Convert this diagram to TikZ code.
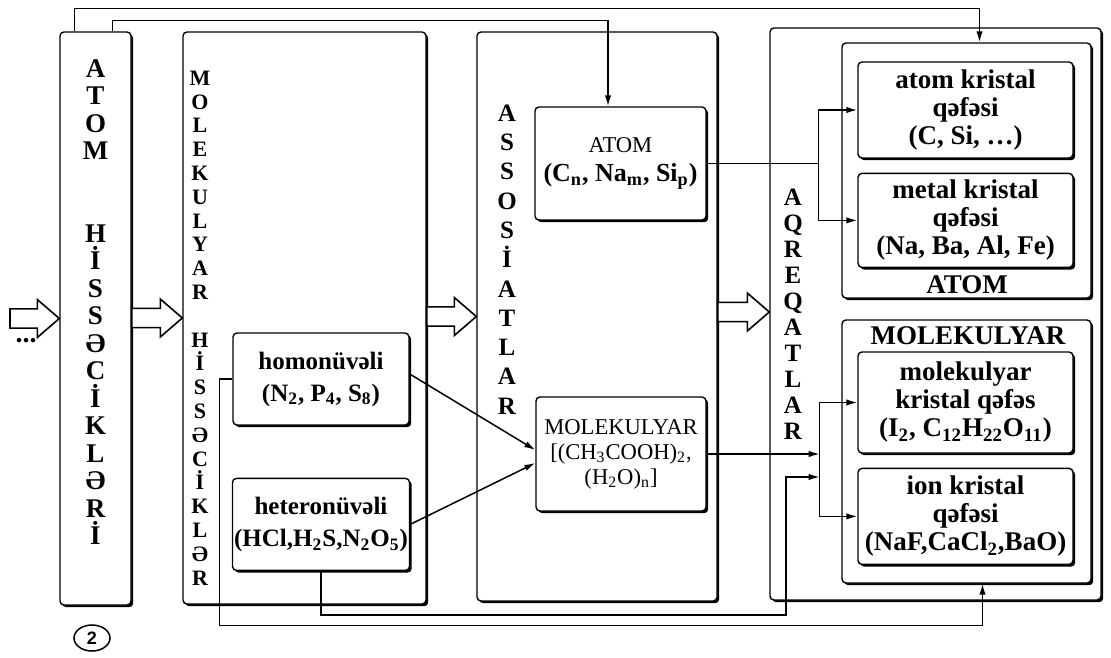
\documentclass[tikz,border=0pt]{standalone}
\usepackage{fontspec}
\setmainfont{Liberation Serif}
\newfontfamily\circfont{Liberation Sans}
\usetikzlibrary{arrows.meta, positioning, calc, shadows, shapes.geometric}

% hollow block arrow from the x of #1 to the point #2
\newcommand{\bigarrow}[2]{%
  \draw[hollow] let \p1 = #1, \p2 = #2 in
    (\x1, \y2+4.8pt) -- (\x2-11pt, \y2+4.8pt) -- (\x2-11pt, \y2+9.5pt) -- (\x2, \y2)
    -- (\x2-11pt, \y2-9.5pt) -- (\x2-11pt, \y2-4.8pt) -- (\x1, \y2-4.8pt) -- cycle;}

\begin{document}
\begin{tikzpicture}[
        x=0.5pt, y=-0.5pt,
        box/.style = {draw, fill=white, rounded corners=2pt, line width=0.7pt, inner sep=0pt,
                      drop shadow={shadow xshift=1.1pt, shadow yshift=-1.1pt, opacity=1, fill=black}},
        inbox/.style = {box, align=center, font=\fontsize{13.5}{14}\selectfont\bfseries},
        vlet/.style = {align=center, inner sep=0pt},
        conn/.style = {line width=0.75pt},
        hollow/.style = {draw, fill=white, line width=0.8pt, line join=miter},
        >={Latex[length=5.5pt, width=3.2pt]}
    ]
    \useasboundingbox (0,0) rectangle (1111,657);

    % main columns
    \node[box, minimum width=35.5pt, minimum height=286.5pt] (atomh) at (95.5,318.5) {};
    \node[box, minimum width=121.5pt, minimum height=286pt] (molh) at (304.5,318) {};
    \node[box, minimum width=120pt, minimum height=284.5pt] (assoc) at (597,316.5) {};
    \node[box, minimum width=165.5pt, minimum height=286pt] (aqreq) at (935.5,314) {};

    % groups of the lattices
    \node[box, minimum width=124.5pt, minimum height=127.5pt] (atomgrp) at (966.5,170.5) {};
    \node[box, minimum width=124.5pt, minimum height=131.5pt] (molgrp) at (966.5,451.5) {};
    \node[font=\fontsize{13.5}{13.5}\selectfont\bfseries] (atomlbl) at (967,285) {ATOM};
    \node[font=\fontsize{13.5}{13.5}\selectfont\bfseries] (mollbl) at (968,336) {MOLEKULYAR};

    \node[inbox, minimum width=107.5pt, minimum height=48pt] (atomkr) at (965.5,110)
        {atom kristal\\qəfəsi\\(C, Si, …)};
    \node[inbox, minimum width=107.5pt, minimum height=47pt, below=7pt of atomkr] (metalkr)
        {metal kristal\\qəfəsi\\(Na, Ba, Al, Fe)};
    \node[inbox, minimum width=107.5pt, minimum height=50.5pt] (molkr) at (965.5,402.5)
        {molekulyar\\kristal qəfəs\\(I\textsubscript{2}, C\textsubscript{12}H\textsubscript{22}O\textsubscript{11})};
    \node[inbox, minimum width=107.5pt, minimum height=48pt, below=7pt of molkr] (ionkr)
        {ion kristal\\qəfəsi\\(NaF,CaCl\textsubscript{2},BaO)};

    % associates
    \node[box, align=center, minimum width=85.5pt, minimum height=56.5pt,
          font=\fontsize{13}{14.5}\selectfont\bfseries] (atomassoc) at (620.5,163.5)
        {{\mdseries\fontsize{11.3}{14.5}\selectfont ATOM}\\(C\textsubscript{n}, Na\textsubscript{m}, Si\textsubscript{p})};
    \node[box, align=center, minimum width=85pt, minimum height=57pt,
          font=\fontsize{11.3}{12.5}\selectfont] (molassoc) at (621,454)
        {MOLEKULYAR\\{[}(CH\textsubscript{3}COOH)\textsubscript{2},\\(H\textsubscript{2}O)\textsubscript{n}]};

    % molecules
    \node[box, align=center, minimum width=88pt, minimum height=46pt,
          font=\fontsize{12.5}{16}\selectfont\bfseries] (homo) at (321,379)
        {homonüvəli\\(N\textsubscript{2}, P\textsubscript{4}, S\textsubscript{8})};
    \node[box, align=center, minimum width=88.5pt, minimum height=46pt, below=26pt of homo,
          font=\fontsize{12.5}{16}\selectfont\bfseries] (hetero)
        {heteronüvəli\\(HCl,H\textsubscript{2}S,N\textsubscript{2}O\textsubscript{5})};

    % vertical titles
    \node[vlet, font=\fontsize{13.5}{13.75}\selectfont\bfseries] (atomhtxt) at (95.5,302)
        {A\\T\\O\\M\\[27.5pt]H\\İ\\S\\S\\Ə\\C\\İ\\K\\L\\Ə\\R\\İ};
    \node[vlet, font=\fontsize{11}{11.9}\selectfont\bfseries] (molhtxt) at (200,328)
        {M\\O\\L\\E\\K\\U\\L\\Y\\A\\R\\[11.9pt]H\\İ\\S\\S\\Ə\\C\\İ\\K\\L\\Ə\\R};
    \node[vlet, font=\fontsize{12.5}{14.65}\selectfont\bfseries] (assoctxt) at (507,259.5)
        {A\\S\\S\\O\\S\\İ\\A\\T\\L\\A\\R};
    \node[vlet, font=\fontsize{12.5}{13}\selectfont\bfseries] (aqreqtxt) at (793,314)
        {A\\Q\\R\\E\\Q\\A\\T\\L\\A\\R};

    \node[draw, ellipse, line width=0.75pt, minimum width=18pt, minimum height=13pt, inner sep=0pt,
          font=\circfont\bfseries\fontsize{9}{9}\selectfont] (num) at (92,638) {2};
    \node[font=\fontsize{14}{14}\selectfont\bfseries] (dots) at (26,341) {...};

    % block arrows
    \coordinate (entry) at (10,318);
    \bigarrow{(entry)}{(atomh.west)}
    \bigarrow{(atomh.east)}{(molh.west)}
    \bigarrow{(molh.east)}{(assoc.west)}
    \bigarrow{(assoc.east)}{($(aqreq.west)+(0,-2)$)}

    % lines along the top
    \draw[conn, ->] ($(atomh.north west)+(15,0)$) -- ++(0,-23) -| ($(atomgrp.north)+(13,0)$);
    \draw[conn, ->] ($(atomh.north west)+(53,0)$) -- ++(0,-11) -| ($(atomassoc.north)+(-12.5,0)$);

    % molecules to associates
    \draw[conn, ->] ($(homo.east)+(0,-5)$) -- ($(molassoc.west)+(0,-4)$);
    \draw[conn, ->] (hetero.east) -- ($(molassoc.west)+(0,9)$);

    % associates to lattices
    \coordinate (brA) at ($(atomassoc.east)+(112,0)$);
    \coordinate (brM) at ($(molassoc.east)+(113,0)$);
    \draw[conn] (atomassoc.east) -- (brA);
    \draw[conn, ->] (brA) |- (atomkr.west);
    \draw[conn, ->] (brA) |- (metalkr.west);
    \draw[conn, ->] (molassoc.east) -- (brM);
    \draw[conn, ->] (brM) |- (molkr.west);
    \draw[conn, ->] (brM) |- (ionkr.west);

    % lines along the bottom
    \draw[conn, ->] (homo.west) -- ++(-13,0) |- ($(molgrp.south)+(16,42)$) -- ($(molgrp.south)+(16,0)$);
    \draw[conn, ->] (hetero.south) |- ++(465,44) |- ($(brM)+(0,23)$);
\end{tikzpicture}
\end{document}
